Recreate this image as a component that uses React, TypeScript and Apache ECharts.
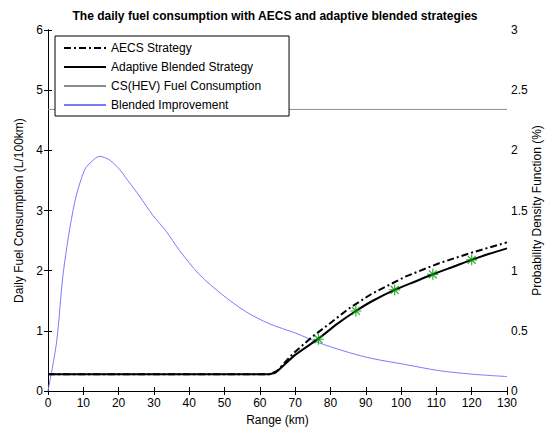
import React, { useEffect, useRef } from "react";
import * as echarts from "echarts";

const xTicks = { min: 0, max: 130, interval: 10 };

const aecsX = [0, 63, 65, 69.2, 74.8, 80, 85.2, 91.8, 101.2, 110.6, 120, 130];
const aecsY = [0.28, 0.28, 0.34, 0.61, 0.9, 1.13, 1.37, 1.62, 1.9, 2.12, 2.3, 2.47];

const adaptX = [0, 62.5, 64.5, 70, 76.6, 82, 87.2, 92, 98.2, 104, 109, 115, 120, 125, 130];
const adaptY = [0.28, 0.28, 0.31, 0.6, 0.87, 1.12, 1.33, 1.5, 1.68, 1.82, 1.94, 2.07, 2.18, 2.28, 2.37];

const starX = [76.6, 87.2, 98.2, 109, 120];
const starY = [0.86, 1.33, 1.68, 1.94, 2.18];

const csX = [0, 130];
const csY = [4.68, 4.68];

const blendX = [0, 2.4, 4.4, 7.5, 10.4, 12.5, 14.6, 17.4, 20.3, 22.6, 25.9, 29.7, 33.4, 37.2, 42.8, 49.4, 56, 62.6, 70.2, 76.8, 85.2, 91.8, 101.2, 110.6, 120, 130];
const blendY = [0, 0.4, 1.0, 1.56, 1.84, 1.91, 1.95, 1.92, 1.84, 1.75, 1.62, 1.46, 1.33, 1.17, 0.97, 0.8, 0.66, 0.56, 0.48, 0.4, 0.32, 0.27, 0.22, 0.17, 0.14, 0.12];

const zip = (xs: number[], ys: number[]) => xs.map((x, i) => [x, ys[i]]);

const FONT = "Liberation Sans, Arial, sans-serif";

export default function App() {
  const ref = useRef<HTMLDivElement>(null);
  useEffect(() => {
    if (!ref.current) return;
    const chart = echarts.init(ref.current, null, { renderer: "svg" });
    const axisCommon = {
      axisLine: { show: true, lineStyle: { color: "#000", width: 1 } },
      axisTick: { show: true, inside: true, length: 4, lineStyle: { color: "#000" } },
      splitLine: { show: false },
      axisLabel: { color: "#000", fontSize: 12, fontFamily: FONT },
    };
    chart.setOption({
      animation: false,
      backgroundColor: "#fff",
      textStyle: { fontFamily: FONT },
      title: {
        text: "The daily fuel consumption with AECS and adaptive blended strategies",
        left: "center",
        top: 5,
        textStyle: { fontSize: 12, fontWeight: "bold", color: "#000", fontFamily: FONT },
      },
      legend: {
        orient: "vertical",
        left: 55,
        top: 36,
        backgroundColor: "#fff",
        borderColor: "#000",
        borderWidth: 1,
        borderRadius: 0,
        padding: [6, 28, 5, 8],
        itemWidth: 42,
        itemHeight: 10,
        itemGap: 7,
        itemStyle: { opacity: 0, color: "transparent", borderWidth: 0 },
        textStyle: { fontSize: 12, color: "#000", fontFamily: FONT },
        data: ["AECS Strategy", "Adaptive Blended Strategy", "CS(HEV) Fuel Consumption", "Blended Improvement"],
      },
      grid: { left: 48, right: 43, top: 30, bottom: 41, outerBoundsMode: "none", containLabel: false },
      xAxis: [
        {
          type: "value",
          ...xTicks,
          ...axisCommon,
          axisLabel: { ...axisCommon.axisLabel, margin: 6 },
          name: "Range (km)",
          nameLocation: "middle",
          nameGap: 22,
          nameTextStyle: { fontSize: 12, color: "#000", fontFamily: FONT },
        },
        {
          type: "value",
          position: "top",
          ...xTicks,
          ...axisCommon,
          axisLabel: { show: false },
        },
      ],
      yAxis: [
        {
          type: "value",
          min: 0,
          max: 6,
          interval: 1,
          ...axisCommon,
          axisLabel: { ...axisCommon.axisLabel, margin: 5 },
          name: "Daily Fuel Consumption (L/100km)",
          nameLocation: "middle",
          nameGap: 22,
          nameTextStyle: { fontSize: 12, color: "#000", fontFamily: FONT },
        },
        {
          type: "value",
          position: "right",
          min: 0,
          max: 3,
          interval: 0.5,
          ...axisCommon,
          axisLabel: { ...axisCommon.axisLabel, margin: 4 },
          name: "Probability Density Function (%)",
          nameLocation: "middle",
          nameGap: 24,
          nameMoveOverlap: false,
          nameTextStyle: { fontSize: 12, color: "#000", fontFamily: FONT },
        },
      ],
      series: [
        {
          name: "AECS Strategy",
          type: "line",
          data: zip(aecsX, aecsY),
          symbol: "none",
          lineStyle: { color: "#000", width: 2, type: [7, 3, 2, 3] },
          itemStyle: { color: "#000" },
          z: 4,
        },
        {
          name: "Adaptive Blended Strategy",
          type: "line",
          data: zip(adaptX, adaptY),
          symbol: "none",
          smooth: 0.2,
          lineStyle: { color: "#000", width: 2 },
          itemStyle: { color: "#000" },
          z: 4,
        },
        {
          name: "CS(HEV) Fuel Consumption",
          type: "line",
          data: zip(csX, csY),
          symbol: "none",
          lineStyle: { color: "#8c8c8c", width: 1 },
          itemStyle: { color: "#8c8c8c" },
          z: 2,
        },
        {
          name: "Blended Improvement",
          type: "line",
          yAxisIndex: 1,
          data: zip(blendX, blendY),
          symbol: "none",
          smooth: 0.3,
          lineStyle: { color: "#7a7aff", width: 1 },
          itemStyle: { color: "#7a7aff" },
          z: 3,
        },
        {
          name: "markers",
          type: "scatter",
          data: zip(starX, starY),
          symbol: "path://M0,-5L0,5M-5,0L5,0M-3.6,-3.6L3.6,3.6M-3.6,3.6L3.6,-3.6",
          symbolSize: 11,
          itemStyle: { color: "none", borderColor: "#009900", borderWidth: 1.2 },
          z: 5,
        },
      ],
    });
    return () => chart.dispose();
  }, []);
  return <div ref={ref} style={{ position: "absolute", left: 0, top: 0, width: 550, height: 432 }} />;
}
